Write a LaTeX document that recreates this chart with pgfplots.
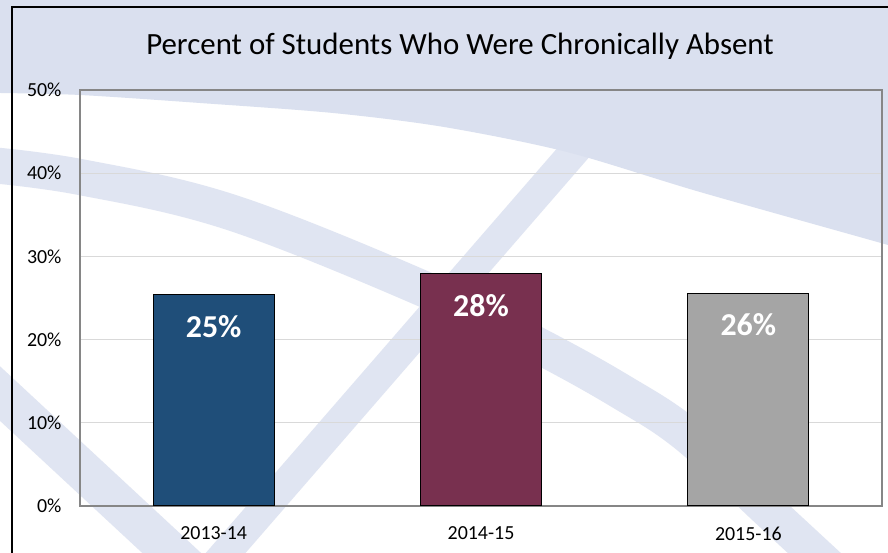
\documentclass[border=0pt]{standalone}
\usepackage{pgfplots}
\pgfplotsset{compat=1.18}
\usepackage{fontspec}
\setmainfont{Carlito}
\definecolor{bg}{HTML}{DAE0EF}
\definecolor{band}{HTML}{E0E5F2}
\definecolor{barblue}{HTML}{1F4E79}
\definecolor{barred}{HTML}{78304F}
\definecolor{bargray}{HTML}{A5A5A5}
\definecolor{gridgray}{HTML}{D9D9D9}
\definecolor{axisgray}{HTML}{868686}
\begin{document}
\begin{tikzpicture}[x=1bp,y=1bp]
\useasboundingbox (-80,-47) rectangle (808,506);
\begin{scope}
\clip (-80,-47) rectangle (808,506);
\fill[white] (-80,-47) rectangle (808,506);
% decorative background swooshes
\draw[band, line width=36bp, line cap=butt] plot[smooth, tension=0.6] coordinates {(-100,342) (0,329) (153,293) (353,213) (461,159) (540,115) (607,71) (690,-6) (770,-80)};
\draw[band, line width=40bp, line cap=butt] (-100,131) -- (110,-64);
\draw[band, line width=30bp, line cap=butt] (512,375) -- (130,-65);
\fill[bg] (-90,520) -- (-90,414) -- plot[smooth] coordinates {(-80,413) (0,411) (120,403) (253,393) (364,379) (487,354) (620,314) (808,261) (830,254)} -- (830,520) -- cycle;
\end{scope}
\draw[black, line width=1.2bp] (-68,-47) -- (-68,499) -- (808,499);
\node[anchor=base, font=\fontsize{31}{36}\selectfont] at (380,451) {Percent of Students Who Were Chronically Absent};
\begin{axis}[
  scale only axis, width=802bp, height=416bp,
  at={(0,0)}, anchor=south west,
  xmin=-0.5, xmax=2.5, ymin=0, ymax=50,
  axis line style={draw=axisgray, line width=1.2bp},
  ytick={0,10,20,30,40,50},
  yticklabel={\pgfmathprintnumber{\tick}\%},
  xtick={0,1,2}, xticklabels={2013-14,2014-15,2015-16},
  tick style={draw=none},
  ymajorgrids, grid style={gridgray, line width=1bp},
  ticklabel style={font=\fontsize{20}{23}\selectfont},
  yticklabel style={xshift=-15bp},
  xticklabel style={yshift=-13bp},
  /pgf/number format/assume math mode=true,
  ybar, bar width=121bp, bar shift=0pt,
  point meta=explicit symbolic,
  nodes near coords,
  every node near coord/.append style={anchor=north, inner sep=0pt, yshift=-20bp, text=white, font=\bfseries\fontsize{32}{35}\selectfont},
]
\addplot[fill=barblue, draw=black, line width=1bp] coordinates {(0,25.4) [25\%]};
\addplot[fill=barred, draw=black, line width=1bp] coordinates {(1,27.9) [28\%]};
\addplot[fill=bargray, draw=black, line width=1bp] coordinates {(2,25.55) [26\%]};
\end{axis}
\end{tikzpicture}
\end{document}
